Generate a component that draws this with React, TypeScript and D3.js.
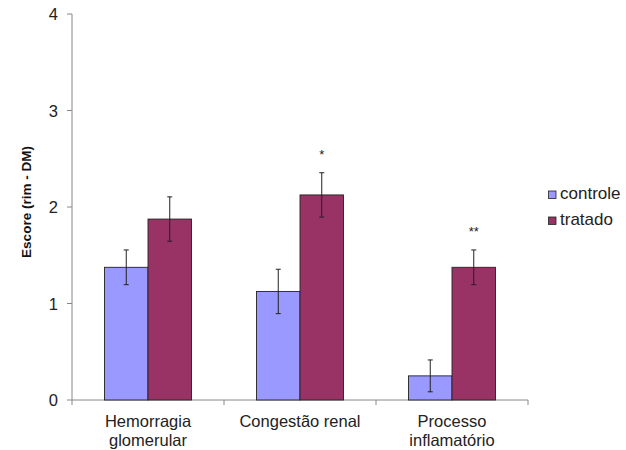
import React from 'react';
import * as d3 from 'd3';

const categories = [['Hemorragia', 'glomerular'], ['Congestão renal'], ['Processo', 'inflamatório']];
const seriesNames = ['controle', 'tratado'];
const controle = [1.375, 1.125, 0.25];
const tratado = [1.875, 2.125, 1.375];
const controleErr = [0.18, 0.23, 0.165];
const tratadoErr = [0.23, 0.23, 0.18];
const marks = ['', '*', '**'];
const yTicks = [0, 1, 2, 3, 4];

const colors = ['#9999FF', '#993366'];
const font = 'Liberation Sans, Arial, sans-serif';

const App: React.FC = () => {
    const width = 626;
    const height = 450;
    const left = 72;
    const right = 528;
    const top = 14;
    const bottom = 400;

    const x = d3.scaleBand<number>()
        .domain(d3.range(categories.length))
        .range([left, right]);
    const y = d3.scaleLinear().domain([0, 4]).range([bottom, top]);

    const barW = 43.5;
    const series = [controle, tratado];
    const errs = [controleErr, tratadoErr];

    return (
        <svg width={width} height={height} style={{ position: 'absolute', left: 0, top: 0, background: '#fff' }}>
            {/* y axis */}
            <line x1={left} x2={left} y1={top} y2={bottom} stroke="#888" />
            {yTicks.map(t => (
                <g key={t}>
                    <line x1={left - 5} x2={left} y1={y(t)} y2={y(t)} stroke="#888" />
                    <text x={58} y={y(t) + 6} textAnchor="end" fontFamily={font} fontSize={16.5} fill="#222">{t}</text>
                </g>
            ))}
            <text transform={`translate(31, 202) rotate(-90)`} textAnchor="middle"
                fontFamily={font} fontSize={13.5} fontWeight="bold" fill="#111">Escore (rim - DM)</text>

            {/* x axis */}
            <line x1={left} x2={right} y1={bottom} y2={bottom} stroke="#888" />
            {d3.range(categories.length + 1).map(i => {
                const xx = left + i * x.bandwidth();
                return <line key={i} x1={xx} x2={xx} y1={bottom} y2={bottom + 5} stroke="#888" />;
            })}

            {/* bars */}
            {categories.map((c, i) => {
                const cx = (x(i) as number) + x.bandwidth() / 2;
                return (
                    <g key={i}>
                        {series.map((s, k) => {
                            const bx = cx - barW + k * barW;
                            return (
                                <rect key={k} x={bx} y={y(s[i])} width={barW} height={bottom - y(s[i])}
                                    fill={colors[k]} stroke="#222" strokeWidth={0.9} />
                            );
                        })}
                        {series.map((s, k) => {
                            const ex = cx - barW / 2 + k * barW;
                            const hi = y(s[i] + errs[k][i]);
                            const lo = y(s[i] - errs[k][i]);
                            return (
                                <g key={'e' + k} stroke="#222" strokeWidth={1}>
                                    <line x1={ex} x2={ex} y1={hi} y2={lo} />
                                    <line x1={ex - 2.5} x2={ex + 2.5} y1={hi} y2={hi} />
                                    <line x1={ex - 2.5} x2={ex + 2.5} y1={lo} y2={lo} />
                                </g>
                            );
                        })}
                        {marks[i] && (
                            <text x={cx + barW / 2} y={y(tratado[i] + tratadoErr[i]) - 14} textAnchor="middle"
                                fontFamily={font} fontSize={13} fill="#222">{marks[i]}</text>
                        )}
                        {c.map((line, j) => (
                            <text key={j} x={cx} y={427 + j * 19} textAnchor="middle"
                                fontFamily={font} fontSize={16.5} fill="#222">{line}</text>
                        ))}
                    </g>
                );
            })}

            {/* legend */}
            {seriesNames.map((n, k) => (
                <g key={n}>
                    <rect x={548.5} y={191 + k * 26} width={7.5} height={7.5} fill={colors[k]} stroke="#222" strokeWidth={0.8} />
                    <text x={560} y={199 + k * 26} fontFamily={font} fontSize={17} fill="#222">{n}</text>
                </g>
            ))}
        </svg>
    );
};

export default App;
